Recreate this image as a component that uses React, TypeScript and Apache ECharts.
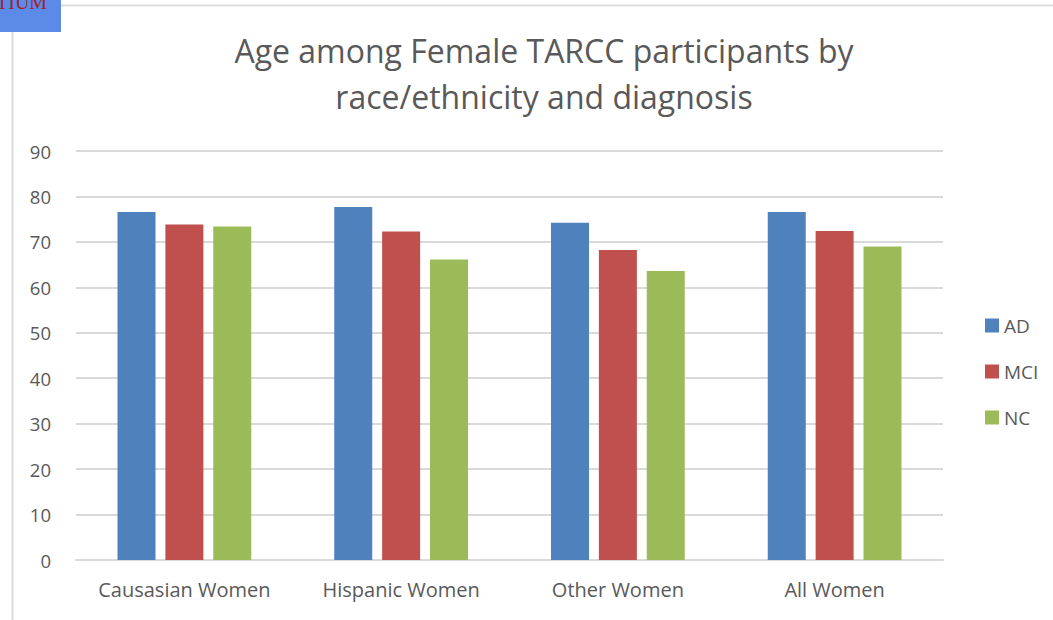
import React, { useEffect, useRef } from "react";
import * as echarts from "echarts";

const categories = ["Causasian Women", "Hispanic Women", "Other Women", "All Women"];
const adValues = [76.6, 77.7, 74.2, 76.6];
const mciValues = [73.8, 72.3, 68.2, 72.4];
const ncValues = [73.4, 66.1, 63.6, 69.0];
const seriesNames = ["AD", "MCI", "NC"];
const colors = ["#4F81BD", "#C0504D", "#9BBB59"];

export default function App() {
  const ref = useRef<HTMLDivElement>(null);
  useEffect(() => {
    document.body.style.margin = "0";
    const chart = echarts.init(ref.current!, null, { renderer: "svg" });
    const font = "'Open Sans', 'Liberation Sans', sans-serif";
    const mk = (name: string, data: number[], color: string) => ({
      name,
      type: "bar",
      data,
      barWidth: 38,
      barGap: "26%",
      itemStyle: { color },
    });
    chart.setOption({
      animation: false,
      textStyle: { fontFamily: font },
      title: {
        text: "Age among Female TARCC participants by\nrace/ethnicity and diagnosis",
        left: 539,
        textAlign: "center",
        top: 22,
        textStyle: { fontSize: 32, fontWeight: "normal", color: "#595959", lineHeight: 46, fontFamily: font },
      },
      legend: {
        orient: "vertical",
        left: 985,
        top: 316,
        padding: 0,
        itemWidth: 14,
        itemHeight: 14,
        itemGap: 27,
        icon: "rect",
        textStyle: { fontSize: 19, color: "#595959", fontFamily: font },
        data: seriesNames,
      },
      grid: { left: 76, right: 110, top: 151, bottom: 60 },
      xAxis: {
        type: "category",
        data: categories,
        axisLine: { lineStyle: { color: "#d9d9d9", width: 2 } },
        axisTick: { show: false },
        axisLabel: { fontSize: 20, color: "#595959", margin: 19, fontFamily: font, interval: 0 },
      },
      yAxis: {
        type: "value",
        min: 0,
        max: 90,
        interval: 10,
        axisLine: { show: false },
        axisTick: { show: false },
        axisLabel: { fontSize: 18.5, color: "#595959", margin: 25, fontFamily: font },
        splitLine: { lineStyle: { color: "#d9d9d9", width: 2 } },
      },
      graphic: [
        { type: "line", shape: { x1: 61, y1: 5.5, x2: 1053, y2: 5.5 }, style: { stroke: "#dcdcdc", lineWidth: 2 } },
        { type: "line", shape: { x1: 12.5, y1: 32, x2: 12.5, y2: 620 }, style: { stroke: "#dcdcdc", lineWidth: 2 } },
        { type: "rect", shape: { x: 0, y: 0, width: 61, height: 32 }, style: { fill: "#5B8BE6" } },
        {
          type: "text",
          x: -4,
          y: -8,
          style: { text: "TIUM", font: "20px 'Liberation Serif', serif", fill: "#9B2335" },
        },
      ],
      series: [
        mk(seriesNames[0], adValues, colors[0]),
        mk(seriesNames[1], mciValues, colors[1]),
        mk(seriesNames[2], ncValues, colors[2]),
      ],
    });
    return () => chart.dispose();
  }, []);
  return <div ref={ref} style={{ width: 1053, height: 620 }} />;
}
